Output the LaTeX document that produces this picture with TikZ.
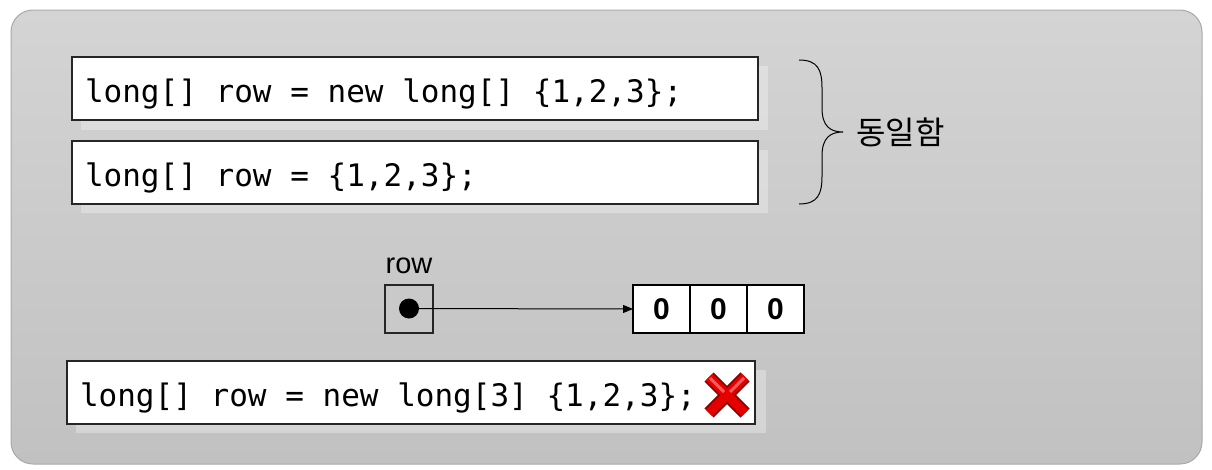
\documentclass[tikz,border=0pt]{standalone}
\usepackage{fontspec}
\setmainfont{Liberation Sans}
\setmonofont{DejaVu Sans Mono}
\newfontfamily\krfont{Noto Sans CJK KR}
\usetikzlibrary{arrows.meta, positioning}

\definecolor{bgtop}{HTML}{D4D4D4}
\definecolor{bgbottom}{HTML}{C1C1C1}
\definecolor{bgline}{HTML}{A9A9A9}
\definecolor{boxline}{HTML}{262626}
\definecolor{ptrfill}{HTML}{C9C9C9}

\begin{document}
\begin{tikzpicture}[
    x=1pt, y=-1pt,
    codebox/.style={rectangle, draw=boxline, line width=2pt, fill=white, text width=660pt, inner xsep=13pt, minimum height=63pt, text height=30pt, text depth=3pt, align=left, anchor=north west, outer sep=0pt, font=\fontsize{31}{36}\ttfamily, execute at begin node={\spaceskip=0pt\xspaceskip=0pt}},
    shadowbox/.style={fill=white, opacity=0.3},
    cell/.style={rectangle, draw=black, line width=1.5pt, fill=white, minimum width=57pt, minimum height=48pt, inner sep=0pt, outer sep=0pt, font=\fontsize{30}{36}\bfseries},
    arrow/.style={-{Triangle[length=10pt,width=8pt]}, line width=1pt}
]
    \useasboundingbox (0,0) rectangle (1212,469);
    % background panel
    \draw[bgline, line width=1pt, rounded corners=22pt, top color=bgtop, bottom color=bgbottom] (11,10) rectangle (1202,464);

    % code lines
    \fill[shadowbox] (81,66) rectangle (768,130);
    \fill[shadowbox] (81,150) rectangle (768,213);
    \fill[shadowbox] (76,370) rectangle (766,433);
    \node (full) [codebox] at (72,57) {long[] row = new long[] \{1,2,3\};};
    \node (short) [codebox] at (72,141) {long[] row = \{1,2,3\};};
    \node (wrong) [codebox, text width=662pt] at (67,361) {long[] row = new long[3] \{1,2,3\};};

    % brace
    \draw[line width=1pt] (799,60) .. controls (818,60) and (822,70) .. (822,88) -- (822,108)
        .. controls (822,126) and (830,132) .. (843,132)
        .. controls (830,132) and (822,138) .. (822,156) -- (822,176)
        .. controls (822,194) and (818,204) .. (799,204);
    \node (same) [anchor=west, font=\fontsize{32}{38}\krfont] at (853,132) {동일함};

    % reference variable and array
    \node (ptr) [rectangle, draw=boxline, line width=2pt, fill=ptrfill, minimum size=48pt, outer sep=0pt] at (409,308.5) {};
    \node (label) [above=7pt of ptr, font=\fontsize{29}{34}\selectfont] {row};
    \node (c1) [cell] at (661.5,309) {0};
    \node (c2) [cell, right=0pt of c1] {0};
    \node (c3) [cell, right=0pt of c2] {0};
    \fill (ptr.center) circle (10);
    \draw [arrow] (ptr.center) -- (c1.west);

    % cross mark
    \draw[line width=13pt, red!55!black] (709,377) -- (745,413) (745,377) -- (709,413);
    \draw[line width=9pt, red!90!black] (709,377) -- (745,413) (745,377) -- (709,413);
    \draw[line width=3pt, red!40!white, opacity=0.6] (710,378) -- (724,392) (744,378) -- (730,392);
\end{tikzpicture}
\end{document}
